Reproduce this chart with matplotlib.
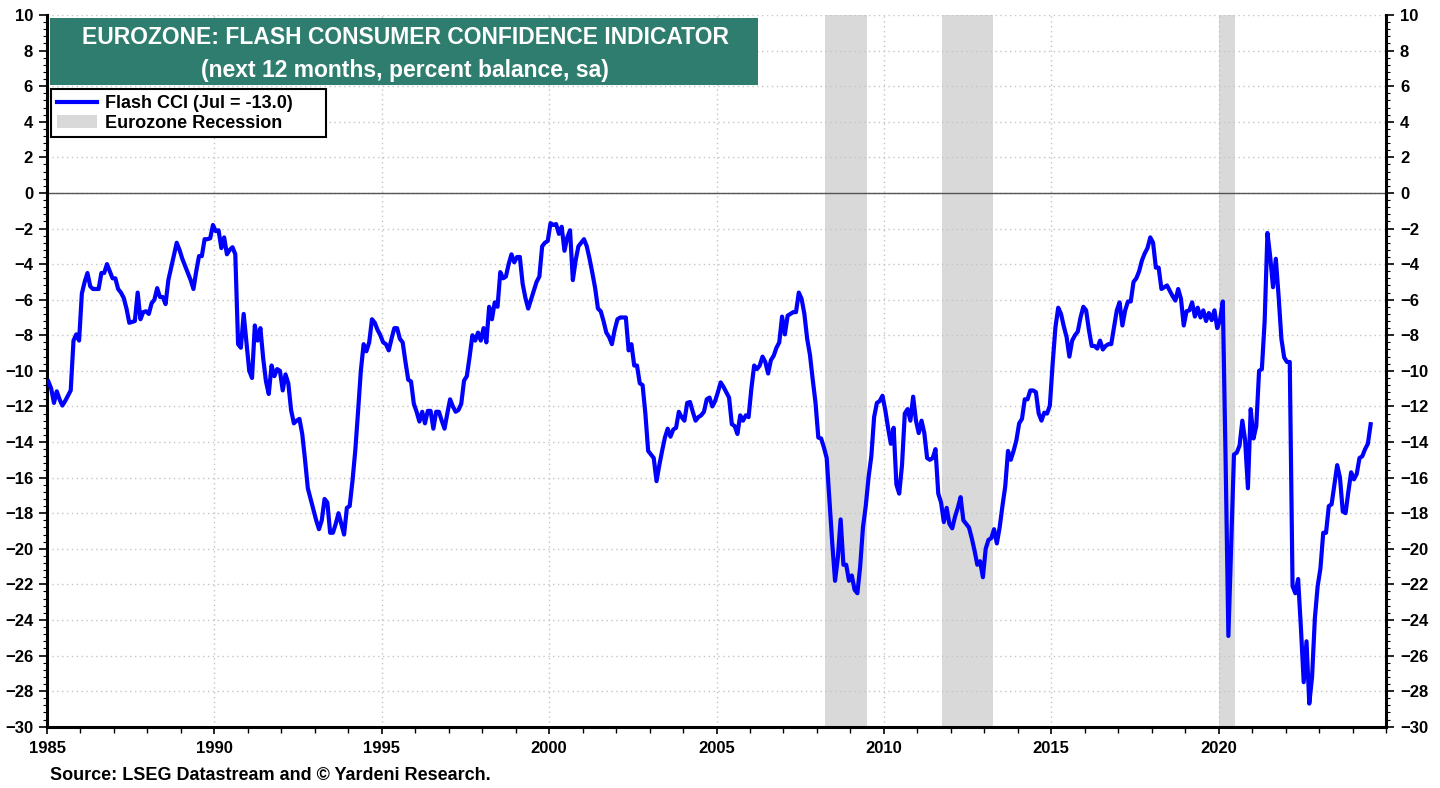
import matplotlib
matplotlib.use("Agg")
import matplotlib.pyplot as plt
from matplotlib.patches import Rectangle, Patch
from matplotlib.lines import Line2D
from matplotlib.ticker import MultipleLocator
import numpy as np

plt.rcParams['font.family'] = ['Liberation Sans', 'DejaVu Sans']
plt.rcParams['font.weight'] = 'bold'

# monthly flash consumer confidence, percent balance, from Jan 1985
first_year = 1985
cci_1985_1994 = [
    -10.6, -11.0, -11.8, -11.15, -11.6, -11.95, -11.7, -11.4, -11.1, -8.3, -7.95, -8.3,
    -5.65, -5.0, -4.5, -5.25, -5.4, -5.4, -5.4, -4.5, -4.5, -4.0, -4.4, -4.8,
    -4.8, -5.4, -5.6, -5.9, -6.5, -7.3, -7.25, -7.2, -5.6, -7.1, -6.7, -6.65,
    -6.8, -6.2, -6.0, -5.35, -5.85, -5.85, -6.25, -4.9, -4.2, -3.5, -2.8, -3.2,
    -3.7, -4.1, -4.5, -4.9, -5.4, -4.4, -3.55, -3.55, -2.6, -2.6, -2.55, -1.8,
    -2.15, -2.1, -3.1, -2.5, -3.45, -3.2, -3.05, -3.45, -8.5, -8.7, -6.8, -8.4,
    -10.0, -10.4, -7.45, -8.3, -7.6, -9.3, -10.6, -11.3, -9.7, -10.3, -9.9, -10.0,
    -11.1, -10.2, -10.7, -12.2, -12.95, -12.8, -12.7, -13.55, -15.0, -16.6, -17.2, -17.8,
    -18.4, -18.9, -18.4, -17.2, -17.4, -19.1, -19.1, -18.6, -18.0, -18.6, -19.2, -17.7,
    -17.6, -16.2, -14.5, -12.3, -10.0, -8.5, -8.9, -8.4, -7.1, -7.3, -7.7, -8.0,
]
cci_1995_2004 = [
    -8.4, -8.5, -8.85, -8.2, -7.6, -7.6, -8.2, -8.4, -9.5, -10.5, -10.6, -11.85,
    -12.3, -12.85, -12.3, -12.95, -12.25, -12.25, -13.25, -12.3, -12.3, -12.8, -13.25, -12.4,
    -11.6, -12.0, -12.3, -12.2, -11.85, -10.55, -10.3, -9.2, -8.0, -8.3, -7.85, -8.3,
    -7.6, -8.4, -6.4, -7.1, -6.15, -6.4, -4.45, -4.8, -4.7, -4.0, -3.45, -3.9,
    -3.6, -3.6, -5.1, -5.9, -6.5, -6.0, -5.5, -5.0, -4.7, -3.0, -2.8, -2.7,
    -1.7, -1.8, -1.75, -2.3, -1.9, -3.25, -2.5, -2.1, -4.9, -3.8, -3.0, -2.8,
    -2.6, -3.0, -3.7, -4.5, -5.35, -6.5, -6.65, -7.2, -7.85, -8.1, -8.5, -7.7,
    -7.1, -7.0, -7.0, -7.0, -8.85, -8.5, -9.7, -9.7, -10.7, -10.8, -12.4, -14.5,
    -14.7, -14.9, -16.2, -15.3, -14.5, -13.75, -13.25, -13.7, -13.3, -13.2, -12.3, -12.6,
    -12.8, -11.8, -11.75, -12.3, -12.8, -12.6, -12.5, -12.3, -11.6, -11.5, -12.0, -11.7,
]
cci_2005_2014 = [
    -11.2, -10.65, -10.9, -11.2, -11.5, -13.0, -13.1, -13.55, -12.5, -12.8, -12.5, -12.6,
    -11.0, -9.7, -9.9, -9.7, -9.2, -9.5, -10.15, -9.4, -9.15, -8.7, -8.4, -6.95,
    -7.95, -6.9, -6.8, -6.7, -6.7, -5.6, -5.95, -6.8, -8.2, -9.1, -10.5, -11.8,
    -13.75, -13.8, -14.3, -14.9, -17.3, -19.7, -21.8, -20.5, -18.35, -20.9, -20.9, -21.8,
    -21.5, -22.3, -22.5, -21.0, -18.8, -17.6, -16.0, -14.8, -12.6, -11.8, -11.7, -11.4,
    -12.2, -13.2, -14.1, -13.2, -16.4, -16.9, -15.3, -12.4, -12.15, -12.8, -11.45, -12.8,
    -13.5, -12.8, -13.5, -14.9, -15.0, -14.9, -14.4, -16.9, -17.4, -18.5, -17.7, -18.6,
    -18.85, -18.2, -17.7, -17.1, -18.4, -18.6, -18.8, -19.4, -20.1, -20.9, -20.7, -21.6,
    -20.0, -19.5, -19.4, -18.9, -19.7, -18.8, -17.6, -16.5, -14.5, -15.0, -14.5, -13.9,
    -12.95, -12.7, -11.6, -11.6, -11.1, -11.1, -11.2, -12.4, -12.8, -12.35, -12.4, -11.95,
]
cci_2015_2024 = [
    -9.6, -7.55, -6.45, -6.8, -7.5, -8.1, -9.2, -8.3, -8.0, -7.8, -7.0, -6.4,
    -6.6, -7.7, -8.6, -8.6, -8.75, -8.3, -8.8, -8.6, -8.5, -8.5, -7.55, -6.6,
    -6.15, -7.45, -6.6, -6.1, -6.1, -5.0, -4.8, -4.4, -3.8, -3.4, -3.1, -2.5,
    -2.8, -4.2, -4.2, -5.4, -5.3, -5.2, -5.5, -5.8, -6.05, -5.4, -5.95, -7.45,
    -6.65, -6.6, -6.15, -6.95, -6.45, -7.0, -6.6, -7.2, -6.75, -7.15, -6.6, -7.6,
    -7.15, -6.1, -15.0, -24.9, -19.7, -14.7, -14.6, -14.2, -12.8, -13.9, -16.6, -12.15,
    -13.8, -13.1, -10.0, -9.9, -7.2, -2.25, -3.6, -5.3, -3.7, -5.8, -8.2, -9.25,
    -9.5, -9.5, -22.1, -22.5, -21.7, -24.45, -27.5, -25.2, -28.7, -27.2, -23.9, -22.1,
    -21.1, -19.1, -19.1, -17.6, -17.5, -16.4, -15.3, -16.0, -17.9, -18.0, -16.8, -15.7,
    -16.1, -15.8, -14.9, -14.8, -14.4, -14.1, -13.0,
]

# eurozone recessions: (year, month) of first month, and first month after
recession_start = [(2008, 4), (2011, 10), (2020, 1)]
recession_end = [(2009, 7), (2013, 4), (2020, 7)]

title_lines = ["EUROZONE: FLASH CONSUMER CONFIDENCE INDICATOR",
               "(next 12 months, percent balance, sa)"]
legend_labels = ["Flash CCI (Jul = -13.0)", "Eurozone Recession"]
source_text = "Source: LSEG Datastream and \u00a9 Yardeni Research."

cci = np.array(cci_1985_1994 + cci_1995_2004 + cci_2005_2014 + cci_2015_2024)
dates = first_year + (np.arange(len(cci)) + 0.5) / 12.0

W, H = 1440, 788
fig = plt.figure(figsize=(W / 100, H / 100), dpi=100)
ax = fig.add_axes([47 / W, (H - 726.7) / H, 1339 / W, 711.7 / H])

blue = '#0000ff'
gray = '#d9d9d9'

for (sy, sm), (ey, em) in zip(recession_start, recession_end):
    ax.axvspan(sy + (sm - 1) / 12, ey + (em - 1) / 12, color=gray, lw=0, zorder=1)

ax.plot(dates, cci, color=blue, lw=3.0, zorder=3, solid_joinstyle='round')
ax.axhline(0, color='#555555', lw=1.0, zorder=2)

ax.set_xlim(1985, 2025)
ax.set_ylim(-30, 10)
ax.set_xticks(range(1985, 2025, 5))
ax.xaxis.set_minor_locator(MultipleLocator(1))
ax.yaxis.set_major_locator(MultipleLocator(2))
ax.yaxis.set_minor_locator(MultipleLocator(0.4))

ax.set_axisbelow('line')
ax.grid(True, which='major', color='#c4c4c4', linestyle=(0, (1, 2.5)), lw=1.0)

ax.tick_params(axis='x', which='major', direction='out', length=5, width=1.2,
               labelsize=12, pad=5)
ax.tick_params(axis='x', which='minor', direction='out', length=4, width=1.0)
ax.tick_params(axis='y', which='both', left=True, right=True,
               labelleft=True, labelright=True, direction='out')
ax.tick_params(axis='y', which='major', length=6, width=1.2, labelsize=12, pad=4)
ax.tick_params(axis='y', which='minor', length=3, width=0.8)

ax.spines['top'].set_visible(False)
for side in ['left', 'right', 'bottom']:
    ax.spines[side].set_linewidth(2.2)

# title box
fig.add_artist(Rectangle((50 / W, 1 - 85 / H), 708 / W, 67 / H,
                         transform=fig.transFigure, facecolor='#2e7d6e',
                         edgecolor='none', zorder=5))
fig.text(405 / W, 1 - 37 / H, title_lines[0], color='white', fontsize=16.5,
         ha='center', va='center', zorder=6)
fig.text(405 / W, 1 - 70 / H, title_lines[1], color='white', fontsize=16.5,
         ha='center', va='center', zorder=6)

# legend, with a frame drawn to the reference box size
fig.add_artist(Rectangle((51 / W, 1 - 137 / H), 275 / W, 48 / H,
                         transform=fig.transFigure, facecolor='white',
                         edgecolor='black', lw=1.5, zorder=9))
handles = [Line2D([], [], color=blue, lw=3.0), Patch(facecolor=gray, edgecolor='none')]
leg = fig.legend(handles, legend_labels, loc='upper left',
                 bbox_to_anchor=(51 / W, 1 - 89 / H), bbox_transform=fig.transFigure,
                 frameon=False, fontsize=13, handlelength=2.2, handleheight=0.8,
                 borderaxespad=0, borderpad=0.35, labelspacing=0.12,
                 handletextpad=0.45)
leg.set_zorder(10)

fig.text(50 / W, 1 - 775 / H, source_text, fontsize=13, ha='left', va='center')

fig.savefig('out.png', dpi=100, facecolor='white')
